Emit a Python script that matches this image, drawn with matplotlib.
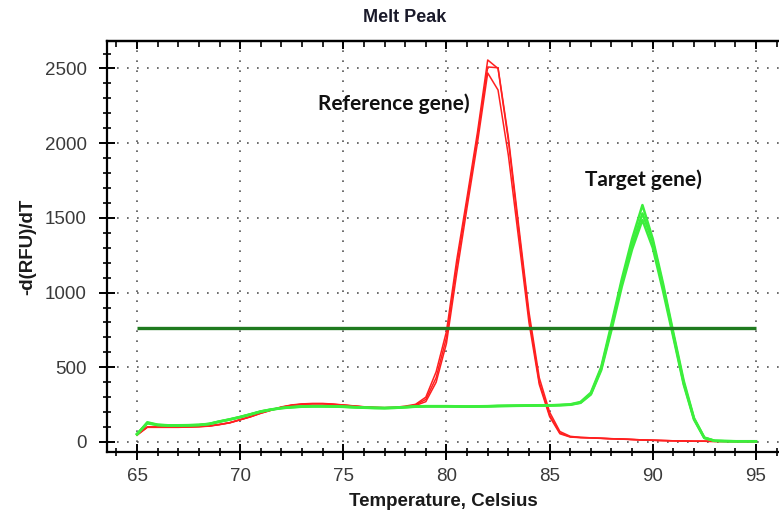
import numpy as np
import matplotlib
matplotlib.use("Agg")
import matplotlib.pyplot as plt
from matplotlib.ticker import MultipleLocator

# temperatures sampled every 0.5 C, 65..95
temps = np.arange(65, 95.01, 0.5)

# reference gene, three replicates (-dRFU/dT)
ref_a = [50, 100, 100, 100, 100, 102, 104, 108, 118, 130, 150, 170, 195, 215, 235, 248, 255, 258, 258,
         254, 248, 242, 236, 232, 230, 232, 240, 252, 300, 470, 740, 1220, 1640, 2070, 2557, 2500,
         2020, 1420, 840, 400, 180, 60, 35, 30, 28, 25, 22, 20, 17, 14, 12, 10, 8, 7, 5, 5, 4, 4, 3, 3, 3]
ref_b = [45, 98, 98, 98, 98, 100, 102, 106, 116, 128, 148, 168, 192, 212, 232, 245, 252, 255, 255,
         251, 246, 240, 234, 230, 228, 230, 236, 248, 285, 430, 700, 1180, 1610, 2040, 2510, 2505,
         2040, 1450, 870, 430, 200, 70, 38, 31, 28, 25, 22, 20, 17, 14, 12, 10, 8, 7, 5, 5, 4, 4, 3, 3, 3]
ref_c = [48, 102, 101, 100, 100, 101, 103, 107, 117, 129, 149, 169, 193, 213, 233, 246, 253, 256, 256,
         252, 247, 241, 235, 231, 229, 231, 234, 244, 270, 400, 660, 1130, 1570, 2000, 2470, 2356,
         1920, 1360, 800, 385, 170, 55, 33, 29, 27, 24, 21, 19, 16, 13, 11, 9, 8, 6, 5, 5, 4, 4, 3, 3, 3]

# target gene, three replicates
tgt_a = [50, 132, 116, 112, 112, 113, 115, 122, 138, 152, 168, 186, 205, 218, 228, 234, 238, 240, 240,
         239, 237, 234, 231, 229, 228, 230, 234, 238, 240, 240, 240, 239, 238, 239, 240, 242, 243, 244,
         245, 246, 246, 248, 252, 268, 330, 500, 790, 1090, 1360, 1586, 1360, 1060, 730, 410, 160, 30,
         8, 6, 5, 5, 5]
tgt_b = [52, 128, 114, 111, 111, 112, 114, 121, 137, 151, 167, 185, 204, 217, 227, 233, 237, 239, 239,
         238, 236, 233, 230, 228, 227, 229, 233, 237, 239, 239, 239, 238, 237, 238, 239, 241, 242, 243,
         244, 245, 245, 247, 250, 264, 322, 490, 770, 1070, 1320, 1530, 1340, 1040, 715, 395, 155, 28,
         8, 6, 5, 5, 5]
tgt_c = [55, 125, 113, 110, 110, 111, 113, 120, 136, 150, 166, 184, 203, 216, 226, 232, 236, 238, 238,
         237, 235, 232, 229, 227, 226, 228, 232, 236, 238, 238, 238, 237, 236, 237, 238, 240, 241, 242,
         243, 244, 244, 246, 249, 262, 318, 480, 750, 1040, 1290, 1486, 1300, 1010, 700, 385, 150, 26,
         8, 6, 5, 5, 5]

threshold = 763
ref_label = "Reference gene)"
tgt_label = "Target gene)"

fig = plt.figure(figsize=(7.79, 5.17), dpi=100)
ax = fig.add_axes([107 / 779, 1 - 452 / 517, 1 - 107 / 779, (452 - 41) / 517])

for ys in (ref_a, ref_b, ref_c):
    ax.plot(temps, ys, color="#ff2020", lw=1.1, zorder=3)
for ys in (tgt_a, tgt_b, tgt_c):
    ax.plot(temps, ys, color="#3cee3c", lw=1.8, zorder=3)

ax.hlines(threshold, 65, 95, color="#1f7a1f", lw=2.4, zorder=4)

ax.set_xlim(63.545, 96.12)
ax.set_ylim(-67, 2684)

ax.xaxis.set_major_locator(MultipleLocator(5))
ax.xaxis.set_minor_locator(MultipleLocator(1))
ax.yaxis.set_major_locator(MultipleLocator(500))
ax.yaxis.set_minor_locator(MultipleLocator(100))
ax.set_xticks(np.arange(65, 96, 5))

ax.grid(True, which="major", color="#555555", linestyle=(0, (1, 5)), lw=1.2)
ax.spines["right"].set_visible(False)
for s in ("left", "bottom", "top"):
    ax.spines[s].set_linewidth(1.6)

ax.tick_params(which="major", direction="inout", length=11, width=1.4, pad=6,
               labelsize=13.5, labelcolor="#3a3a3a", top=False, right=False)
ax.tick_params(which="minor", direction="inout", length=6, width=1.2, top=False, right=False)
ax.tick_params(axis="y", which="major", pad=9)
for lab in ax.get_xticklabels() + ax.get_yticklabels():
    lab.set_fontfamily("Liberation Sans")

# ticks along the top edge point inwards
top = ax.secondary_xaxis("top")
top.xaxis.set_major_locator(MultipleLocator(5))
top.xaxis.set_minor_locator(MultipleLocator(1))
top.tick_params(which="major", direction="in", length=6, width=1.4, labeltop=False)
top.tick_params(which="minor", direction="in", length=4, width=1.2)
top.spines["top"].set_linewidth(1.6)

fig.text(405 / 779, 1 - 18 / 517, "Melt Peak", ha="center", va="center",
         fontsize=13, fontweight="bold", family="Liberation Sans", color="#1a1a2a")
ax.set_xlabel("Temperature, Celsius", fontsize=13.5, fontweight="bold",
              family="Liberation Sans", color="#1a1a1a", labelpad=6)
ax.set_ylabel("-d(RFU)/dT", fontsize=13.5, fontweight="bold",
              family="Liberation Sans", color="#1a1a1a", labelpad=6)

ax.text(73.77, 2266, ref_label, ha="left", va="center", fontsize=15,
        fontweight="bold", family="Lato", color="#111111")
ax.text(86.72, 1758, tgt_label, ha="left", va="center", fontsize=15,
        fontweight="bold", family="Lato", color="#111111")

fig.savefig("out.png", dpi=100)
